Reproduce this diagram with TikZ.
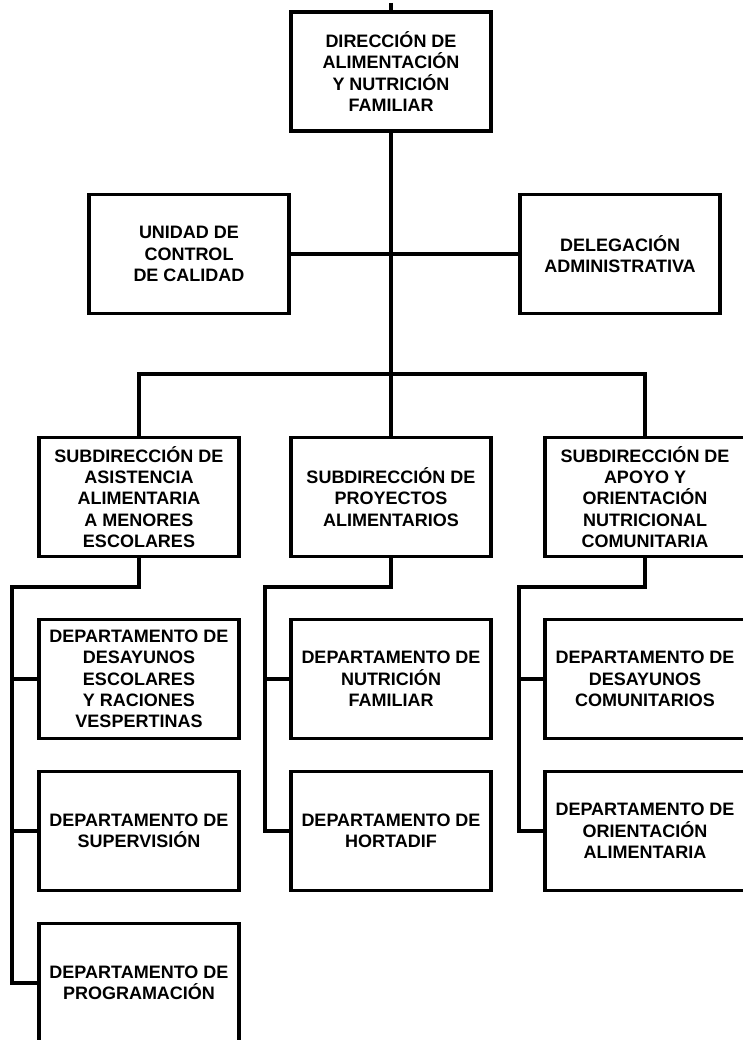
\documentclass[tikz,border=0pt]{standalone}
\usepackage{fontspec}
\setmainfont{Liberation Sans}
\begin{document}
\begin{tikzpicture}[x=1pt,y=-1pt,
  orgbox/.style={draw=black, line width=3.5pt, fill=white, minimum width=200pt,
    minimum height=119pt, inner sep=2pt, align=center,
    font=\bfseries\fontsize{18}{21.3}\selectfont},
  link/.style={line width=3.5pt, draw=black}]
\useasboundingbox (0,0) rectangle (743,1040);
\clip (0,0) rectangle (743,1040);

% top level
\node[orgbox] (dir) at (391,71.5) {DIRECCIÓN DE\\ALIMENTACIÓN\\Y NUTRICIÓN\\FAMILIAR};
\node[orgbox] (ucc) at (189,254) {UNIDAD DE\\CONTROL\\DE CALIDAD};
\node[orgbox] (del) at (620,254) {DELEGACIÓN\\ADMINISTRATIVA};

% subdirections
\node[orgbox] (s1) at (139,497) {SUBDIRECCIÓN DE\\ASISTENCIA\\ALIMENTARIA\\A MENORES\\ESCOLARES};
\node[orgbox] (s2) at (391,497) {SUBDIRECCIÓN DE\\PROYECTOS\\ALIMENTARIOS};
\node[orgbox] (s3) at (645,497) {SUBDIRECCIÓN DE\\APOYO Y\\ORIENTACIÓN\\NUTRICIONAL\\COMUNITARIA};

% departments
\node[orgbox] (d11) at (139,679) {DEPARTAMENTO DE\\DESAYUNOS\\ESCOLARES\\Y RACIONES\\VESPERTINAS};
\node[orgbox] (d12) at (139,831) {DEPARTAMENTO DE\\SUPERVISIÓN};
\node[orgbox] (d13) at (139,983) {DEPARTAMENTO DE\\PROGRAMACIÓN};
\node[orgbox] (d21) at (391,679) {DEPARTAMENTO DE\\NUTRICIÓN\\FAMILIAR};
\node[orgbox] (d22) at (391,831) {DEPARTAMENTO DE\\HORTADIF};
\node[orgbox] (d31) at (645,679) {DEPARTAMENTO DE\\DESAYUNOS\\COMUNITARIOS};
\node[orgbox] (d32) at (645,831) {DEPARTAMENTO DE\\ORIENTACIÓN\\ALIMENTARIA};

% junction points
\coordinate (stub) at (391,3);
\coordinate (hub) at (391,374);
\coordinate (rail1) at (12,587);
\coordinate (rail2) at (265,587);
\coordinate (rail3) at (519,587);

% connectors
\draw[link] (stub) -- (dir.north);
\draw[link] (dir.south) -- (hub);
\draw[link] (ucc.east) -- (del.west);
\draw[link] (s1.north) |- (hub) -| (s3.north);
\draw[link] (hub) -- (s2.north);

\draw[link] (s1.south) |- (rail1) |- (d13.west);
\draw[link] (rail1 |- d11.west) -- (d11.west);
\draw[link] (rail1 |- d12.west) -- (d12.west);

\draw[link] (s2.south) |- (rail2) |- (d22.west);
\draw[link] (rail2 |- d21.west) -- (d21.west);

\draw[link] (s3.south) |- (rail3) |- (d32.west);
\draw[link] (rail3 |- d31.west) -- (d31.west);
\end{tikzpicture}
\end{document}
